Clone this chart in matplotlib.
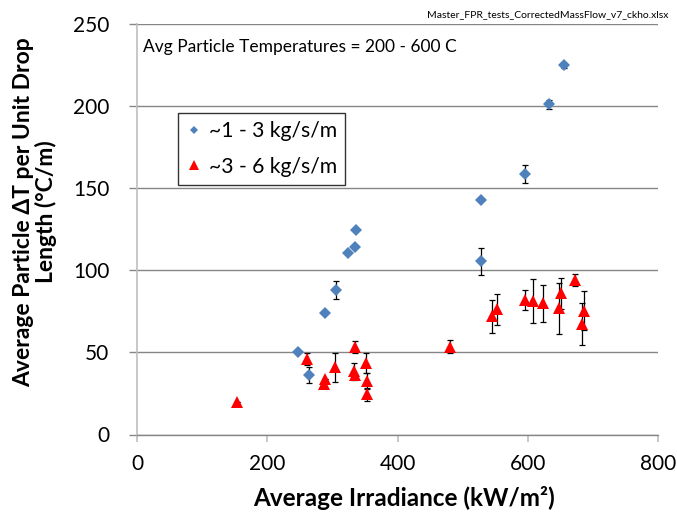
import matplotlib
matplotlib.use('Agg')
import matplotlib.pyplot as plt
from matplotlib.lines import Line2D

plt.rcParams['font.family'] = ['Lato', 'DejaVu Sans']

# Series 1: ~1 - 3 kg/s/m
blue_x = [246.5, 264.3, 289.4, 306.2, 324.2, 334.5, 336.0, 528.0, 528.0, 595.8, 632.0, 656.0]
blue_y = [50.0, 36.0, 74.1, 87.9, 110.6, 114.2, 124.8, 142.6, 105.5, 158.9, 201.0, 224.8]
blue_err = [0, 4.9, 0, 5.4, 0, 0, 0, 0, 8.2, 5.5, 3.0, 1.5]

# Series 2: ~3 - 6 kg/s/m
red_x = [152.9, 261.2, 289.0, 287.0, 303.6, 334.2, 332.7, 335.2, 351.0, 353.0, 353.0,
         480.1, 545.4, 553.0, 596.2, 607.4, 622.7, 650.9, 648.3, 672.7, 686.5, 684.0]
red_y = [20.0, 45.8, 33.5, 30.7, 41.0, 53.4, 38.4, 36.2, 43.5, 32.5, 24.4,
         53.4, 72.0, 76.2, 81.8, 81.5, 79.8, 85.9, 76.8, 94.0, 75.3, 67.2]
red_err = [0, 3.6, 0, 0, 8.8, 3.6, 5.3, 0, 5.9, 5.0, 4.0,
           4.0, 10.1, 9.6, 6.1, 13.5, 11.2, 9.7, 15.7, 3.5, 11.9, 12.9]

labels = ['~1 - 3 kg/s/m', '~3 - 6 kg/s/m']
x_ticks = [0, 200, 400, 600, 800]
y_ticks = [0, 50, 100, 150, 200, 250]

W, H = 677, 512
fig = plt.figure(figsize=(W / 100, H / 100), dpi=100)
ax = fig.add_axes([137 / W, 1 - 434.5 / H, (658 - 137) / W, (434.5 - 24) / H])

grid_c = '#868686'
light_c = '#BFBFBF'
blue_c = '#4F81BD'
red_c = '#FF0000'

ax.set_xlim(0, 800)
ax.set_ylim(0, 250)
ax.set_xticks(x_ticks)
ax.set_yticks(y_ticks)
ax.yaxis.grid(True, color=grid_c, linewidth=1.0)
ax.set_axisbelow(True)
for s in ['top', 'right']:
    ax.spines[s].set_visible(False)
ax.spines['left'].set_color(light_c)
ax.spines['left'].set_linewidth(1.2)
ax.spines['bottom'].set_color(grid_c)
ax.spines['bottom'].set_linewidth(1.0)
ax.tick_params(axis='x', colors=light_c, length=5, width=1.2, labelsize=15, labelcolor='black', pad=9)
ax.tick_params(axis='y', colors=grid_c, length=6, width=1.0, labelsize=15, labelcolor='black', pad=14)

ax.errorbar(blue_x, blue_y, yerr=blue_err, fmt='none', ecolor='black',
            elinewidth=0.9, capsize=2.5, capthick=0.9, zorder=3)
ax.errorbar(red_x, red_y, yerr=red_err, fmt='none', ecolor='black',
            elinewidth=0.9, capsize=2.5, capthick=0.9, zorder=3)
ax.plot(blue_x, blue_y, linestyle='none', marker='D', markersize=6,
        color=blue_c, markeredgewidth=0, zorder=4)
ax.plot(red_x, red_y, linestyle='none', marker='^', markersize=9,
        color=red_c, markeredgewidth=0, zorder=4)

handles = [Line2D([], [], linestyle='none', marker='D', markersize=4.5, color=blue_c, markeredgewidth=0),
           Line2D([], [], linestyle='none', marker='^', markersize=6.5, color=red_c, markeredgewidth=0)]
leg = fig.legend(handles, labels, loc='upper left', bbox_to_anchor=(178 / W, 1 - 113 / H),
                 frameon=True, fancybox=False, fontsize=15.2, handlelength=0.8,
                 handletextpad=0.3, borderpad=0.38, labelspacing=0.75, borderaxespad=0)
leg.get_frame().set_edgecolor('black')
leg.get_frame().set_linewidth(1.0)

fig.text(143 / W, 1 - 47 / H, 'Avg Particle Temperatures = 200 - 600 C', fontsize=12.5,
         ha='left', va='center')
fig.text(668 / W, 1 - 15 / H, 'Master_FPR_tests_CorrectedMassFlow_v7_ckho.xlsx', fontsize=7.5,
         ha='right', va='center')
fig.text(404 / W, 1 - 498 / H, 'Average Irradiance (kW/m²)', fontsize=17.5, fontweight='bold',
         ha='center', va='center')
fig.text(35 / W, 1 - 212 / H, 'Average Particle ΔT per Unit Drop\nLength (°C/m)', fontsize=16.5,
         fontweight='bold', ha='center', va='center', rotation=90, multialignment='center',
         linespacing=1.05)

fig.savefig('out.png', dpi=100)
